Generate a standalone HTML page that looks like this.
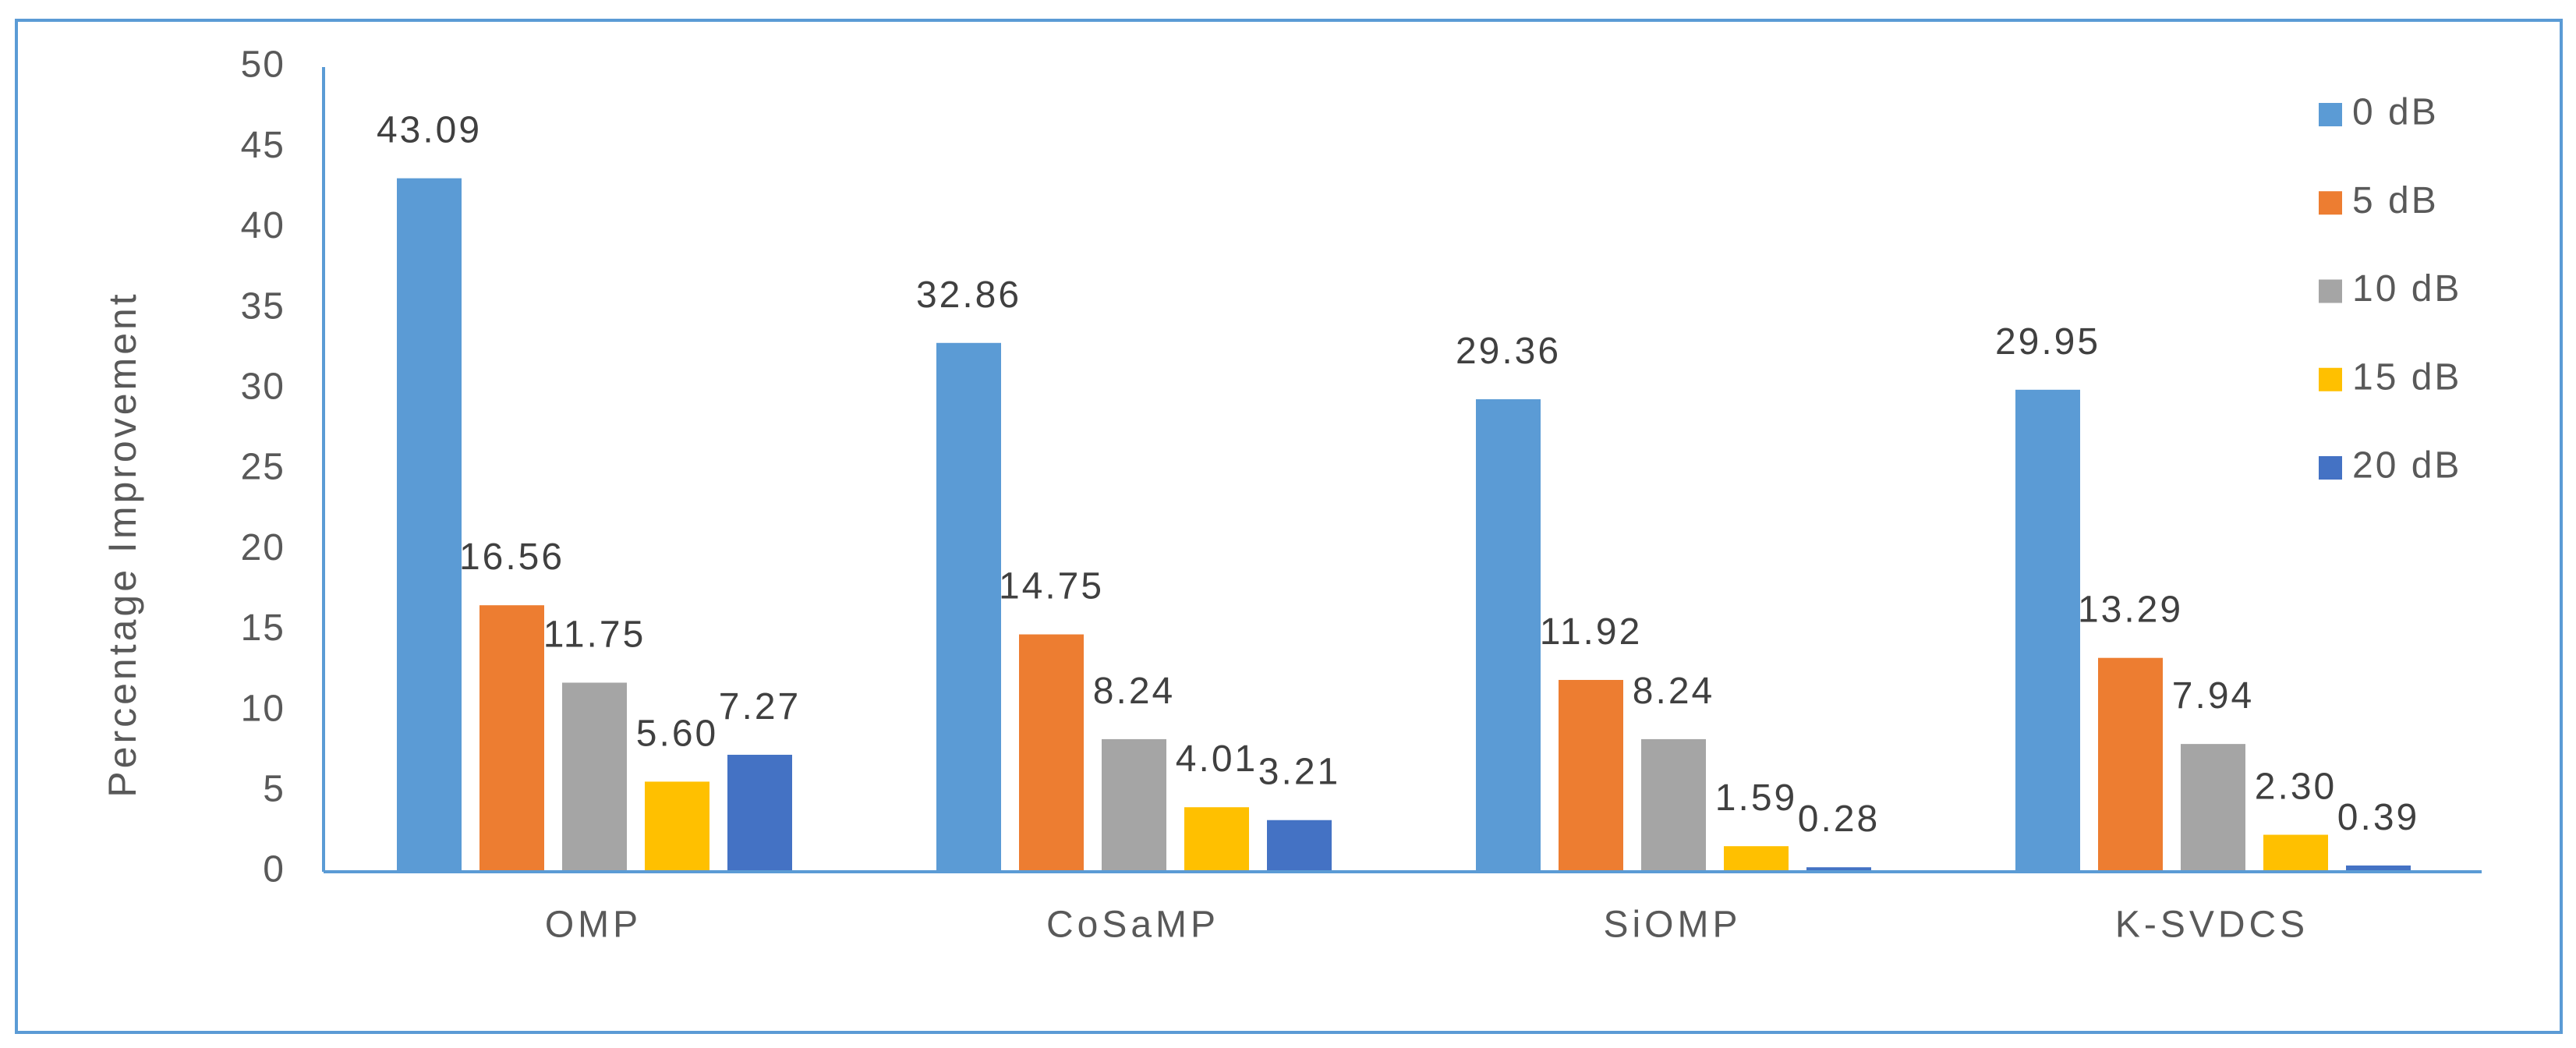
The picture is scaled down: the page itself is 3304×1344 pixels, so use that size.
<!DOCTYPE html>
<html><head><meta charset="utf-8"><style>
html,body{margin:0;padding:0;background:#fff;}
svg{display:block;font-family:"Liberation Sans",sans-serif;}
</style></head><body>
<svg id="chart" width="3304" height="1344" viewBox="0 0 3304 1344">
<rect x="21" y="26" width="3264" height="1298" fill="none" stroke="#5b9bd5" stroke-width="4"/>
<text x="161" y="698" transform="rotate(-90 161 698)" text-anchor="middle" dominant-baseline="middle" font-size="50" letter-spacing="4" fill="#595959">Percentage Improvement</text>
<g id="plot"></g>
</svg>
<script>
const categories = ["OMP","CoSaMP","SiOMP","K-SVDCS"];
const seriesNames = ["0 dB","5 dB","10 dB","15 dB","20 dB"];
const s0 = [43.09,32.86,29.36,29.95];
const s5 = [16.56,14.75,11.92,13.29];
const s10 = [11.75,8.24,8.24,7.94];
const s15 = [5.60,4.01,1.59,2.30];
const s20 = [7.27,3.21,0.28,0.39];
const yTicks = [0,5,10,15,20,25,30,35,40,45,50];
const colors = ["#5b9bd5","#ed7d31","#a5a5a5","#ffc000","#4472c4"];
const series = [s0,s5,s10,s15,s20];
const NS="http://www.w3.org/2000/svg";
const g=document.getElementById('plot');
const X0=415, X1=3183, Y0=1118, YT=86, YMAX=50;
const band=(X1-X0)/categories.length;
const y=v=>Y0-(v/YMAX)*(Y0-YT);
const barW=83, barStep=106, offset=94;
const bx=(c,s)=>X0+c*band+offset+s*barStep;
function mk(tag,attrs){const e=document.createElementNS(NS,tag);for(const k in attrs)e.setAttribute(k,attrs[k]);g.appendChild(e);return e;}
yTicks.forEach(t=>{
  const e=mk('text',{x:366,y:y(t),'text-anchor':'end','dominant-baseline':'middle','font-size':48,'letter-spacing':2,fill:'#595959'});
  e.textContent=t;
  
  
});
series.forEach((arr,s)=>{
  arr.forEach((v,c)=>{
    const r=mk('rect',{x:bx(c,s),y:y(v),width:barW,height:Y0-y(v),fill:colors[s]});
    
    
    const t=mk('text',{x:bx(c,s)+barW/2,y:y(v)-46,'text-anchor':'middle','font-size':48,'letter-spacing':3,fill:'#404040'});
    t.textContent=v.toFixed(2);
    
    
  });
});
const ax=mk('line',{x1:X0,y1:Y0,x2:X1,y2:Y0,stroke:'#5b9bd5','stroke-width':4});


const ay=mk('line',{x1:X0,y1:YT,x2:X0,y2:Y0,stroke:'#5b9bd5','stroke-width':4});


categories.forEach((c,i)=>{
  const t=mk('text',{x:X0+band*(i+0.5),y:1189,'text-anchor':'middle','dominant-baseline':'middle','font-size':48,'letter-spacing':5,fill:'#595959'});
  t.textContent=c;
  
  
});
seriesNames.forEach((n,i)=>{
  const cy=147+i*113.25;
  const r=mk('rect',{x:2974,y:cy-15,width:30,height:30,fill:colors[i]});
  
  
  const t=mk('text',{x:3017,y:cy,'dominant-baseline':'middle','font-size':48,'letter-spacing':3,fill:'#595959'});
  t.textContent=n;
  
  
});
</script>
</body></html>
